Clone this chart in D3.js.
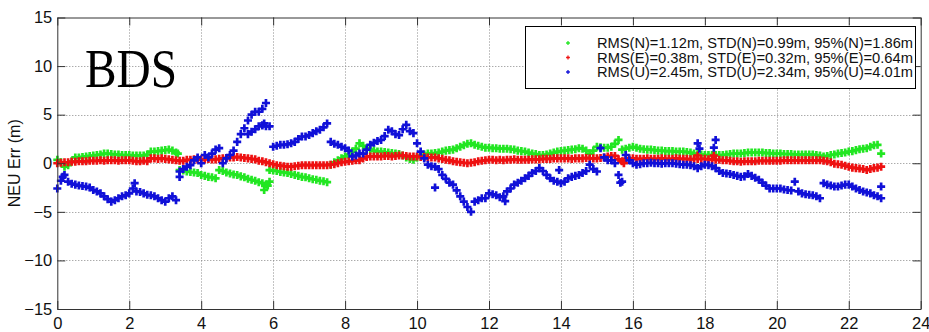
<!DOCTYPE html>
<html>
<head>
<meta charset="utf-8">
<script src="https://cdn.jsdelivr.net/npm/d3@7"></script>
<style>
  body { margin: 0; background: #fff; }
  svg { display: block; font-family: "Liberation Sans", Arial, sans-serif; }
</style>
</head>
<body>
<svg id="chart" width="929" height="332"></svg>
<script>
// samples every 0.1 h, starting at 0 h
const STEP = 0.1;

const errN = [
  0.35, 0.1, -0.35, -0.2, 0.2, 0.6, 0.6, 0.65, 0.7, 0.75,
  0.8, 0.85, 0.9, 1.0, 1.0, 0.95, 0.9, 0.9, 0.85, 0.85,
  0.85, 0.8, 0.8, 0.8, 0.8, 0.9, 1.2, 1.2, 1.25, 1.3,
  1.35, 1.4, 1.3, 1.1, -0.7, -0.75, -0.85, -0.9, -0.95, -1.0,
  -1.2, -1.3, -1.4, -1.45, -1.55, -0.7, -0.8, -0.95, -1.05, -1.15,
  -1.2, -1.35, -1.45, -1.6, -1.7, -1.8, -1.95, -2.05, -2.2, -0.7,
  -0.75, -0.8, -0.9, -0.95, -1.0, -1.1, -1.2, -1.3, -1.4, -1.45,
  -1.55, -1.65, -1.7, -1.8, -1.85, -1.95, -0.15, 0.1, 0.3, 0.5,
  0.7, 0.9, 1.2, 1.5, 2.05, 1.8, 1.55, 1.4, 1.3, 1.2,
  1.2, 1.15, 1.1, 1.05, 1.0, 0.95, 0.8, 0.6, 0.45, 0.35,
  0.6, 0.8, 0.9, 1.0, 1.0, 1.05, 1.1, 1.2, 1.3, 1.35,
  1.4, 1.55, 1.7, 1.85, 2.0, 2.05, 1.9, 1.8, 1.7, 1.6,
  1.6, 1.55, 1.55, 1.5, 1.5, 1.5, 1.45, 1.4, 1.3, 1.25,
  1.2, 1.1, 1.0, 0.95, 0.85, 0.85, 0.9, 1.0, 1.1, 1.2,
  1.25, 1.3, 1.35, 1.4, 1.45, 1.55, 1.5, 1.3, 1.0, 1.3,
  1.7, 1.65, 1.6, 1.6, 1.7, 2.0, 2.4, 1.4, 1.5, 1.6,
  1.7, 1.6, 1.5, 1.45, 1.4, 1.4, 1.35, 1.3, 1.3, 1.25,
  1.25, 1.25, 1.2, 1.2, 1.2, 1.15, 1.1, 1.0, 0.95, 0.9,
  0.85, 0.85, 0.85, 0.85, 0.85, 0.85, 0.9, 0.95, 1.0, 1.0,
  1.0, 1.05, 1.1, 1.1, 1.1, 1.1, 1.1, 1.05, 1.05, 1.0,
  1.0, 1.0, 0.95, 0.95, 0.95, 0.9, 0.9, 0.9, 0.9, 0.9,
  0.9, 0.85, 0.8, 0.7, 0.75, 0.85, 0.9, 1.0, 1.05, 1.1,
  1.2, 1.25, 1.35, 1.45, 1.5, 1.55, 1.7, 1.85, 1.9, 1.0
];

const errE = [
  0.0, 0.05, 0.1, 0.1, 0.15, 0.15, 0.2, 0.2, 0.2, 0.25,
  0.25, 0.25, 0.3, 0.25, 0.3, 0.3, 0.3, 0.25, 0.3, 0.3,
  0.3, 0.25, 0.2, 0.2, 0.25, 0.2, 0.5, 0.5, 0.45, 0.5,
  0.45, 0.4, 0.35, 0.3, 0.25, 0.25, 0.35, 0.35, 0.4, 0.4,
  0.4, 0.4, 0.45, 0.4, 0.4, 0.45, 0.5, 0.55, 0.6, 0.6,
  0.65, 0.6, 0.55, 0.5, 0.45, 0.4, 0.25, 0.2, 0.1, 0.0,
  -0.1, -0.2, -0.25, -0.3, -0.35, -0.35, -0.3, -0.25, -0.2, -0.2,
  -0.2, -0.2, -0.2, -0.2, -0.2, -0.2, -0.15, -0.1, 0.0, 0.1,
  0.15, 0.2, 0.25, 0.3, 0.3, 0.5, 0.65, 0.7, 0.7, 0.7,
  0.7, 0.75, 0.75, 0.7, 0.75, 0.8, 0.8, 0.75, 0.7, 0.7,
  0.7, 0.65, 0.65, 0.6, 0.6, 0.6, 0.5, 0.45, 0.35, 0.3,
  0.2, 0.15, 0.1, 0.05, 0.0, 0.05, 0.1, 0.2, 0.25, 0.3,
  0.35, 0.35, 0.3, 0.35, 0.3, 0.35, 0.35, 0.4, 0.35, 0.35,
  0.35, 0.35, 0.4, 0.4, 0.4, 0.45, 0.45, 0.45, 0.5, 0.5,
  0.5, 0.5, 0.5, 0.45, 0.5, 0.5, 0.5, 0.55, 0.5, 0.5,
  0.5, 0.55, 0.6, 0.7, 0.75, 0.75, 0.4, 0.2, 0.45, 0.5,
  0.5, 0.45, 0.45, 0.45, 0.5, 0.45, 0.45, 0.45, 0.5, 0.45,
  0.45, 0.45, 0.5, 0.45, 0.45, 0.45, 0.4, 0.45, 0.45, 0.45,
  0.45, 0.4, 0.4, 0.35, 0.35, 0.3, 0.3, 0.25, 0.2, 0.2,
  0.15, 0.2, 0.2, 0.2, 0.2, 0.25, 0.25, 0.25, 0.25, 0.25,
  0.25, 0.25, 0.3, 0.3, 0.3, 0.3, 0.3, 0.3, 0.3, 0.3,
  0.3, 0.3, 0.3, 0.25, 0.2, 0.1, -0.05, -0.1, -0.15, -0.25,
  -0.35, -0.45, -0.5, -0.55, -0.6, -0.7, -0.6, -0.5, -0.45, -0.35
];

const errU = [
  -2.6, -1.8, -1.2, -1.9, -2.1, -2.2, -2.3, -2.35, -2.4, -2.5,
  -2.75, -2.9, -3.1, -3.4, -3.7, -3.95, -3.8, -3.6, -3.4, -3.3,
  -3.1, -2.6, -2.9, -2.95, -3.1, -3.25, -3.3, -3.4, -3.6, -3.8,
  -3.95, -3.6, -3.4, -3.8, -0.85, -0.6, -0.35, -0.2, 0.3, 0.6,
  0.0, 0.85, 0.6, 1.0, 1.4, 1.55, 0.0, 0.5, 0.85, 1.3,
  2.2, 3.0, 3.6, 4.4, 5.0, 5.3, 5.3, 5.6, 6.2, 3.8,
  1.7, 1.8, 1.9, 1.9, 1.95, 2.05, 2.2, 2.5, 2.75, 2.75,
  2.9, 3.1, 3.3, 3.45, 3.7, 4.1, 2.2, 2.0, 1.9, 1.7,
  1.55, 1.3, 0.7, 0.8, 1.0, 1.0, 1.4, 1.9, 2.1, 2.3,
  2.4, 2.8, 3.45, 3.3, 3.0, 2.9, 3.5, 3.95, 3.3, 3.1,
  2.05, 1.2, 0.5, -0.15, -0.3, -0.35, -0.6, -1.2, -1.6, -2.0,
  -2.2, -2.8, -3.4, -3.95, -4.5, -5.0, -3.95, -3.8, -3.6, -3.6,
  -3.1, -3.2, -3.3, -3.5, -3.4, -2.9, -2.6, -2.2, -2.0, -1.8,
  -1.55, -1.3, -1.0, -0.8, -0.5, -0.8, -1.2, -1.55, -1.8, -1.9,
  -2.05, -1.9, -1.55, -1.4, -1.3, -1.2, -1.0, -0.8, -0.15, -0.6,
  -0.85, 1.55, 0.6, 0.3, 0.3, 0.0, -1.2, -1.9, 0.85, 0.3,
  0.0, -0.15, -0.1, 0.0, 0.0, 0.05, 0.0, 0.0, -0.05, 0.0,
  0.0, 0.0, -0.05, -0.1, -0.15, -0.15, -0.2, -0.3, -0.5, -0.3,
  -0.15, -0.2, -0.3, -0.5, -0.8, -1.0, -1.05, -1.1, -1.2, -1.3,
  -1.4, -1.35, -1.1, -1.3, -1.5, -1.7, -2.0, -2.3, -2.6, -2.6,
  -2.6, -2.6, -2.7, -2.75, -2.8, -1.9, -2.9, -3.1, -3.2, -3.25,
  -3.3, -3.4, -3.6, -2.05, -2.2, -2.3, -2.4, -2.4, -2.3, -2.2,
  -2.2, -2.4, -2.6, -2.75, -2.9, -3.0, -3.1, -3.3, -3.4, -2.4
];

// scattered epochs that sit off the main band: [hour, metres]
const extraN = [[3.35, 1.0], [5.75, -2.75], [5.85, -2.3], [5.9, -1.9]];
const extraE = [[17.8, 0.8], [18.25, 0.8], [15.75, 0.0]];
const extraU = [
  [0.15, -1.4], [2.15, -2.05], [3.4, -1.4], [5.3, 3.0], [5.4, 3.25], [5.5, 3.5],
  [5.6, 3.8], [5.7, 3.9], [5.75, 4.1], [5.8, 3.8], [10.5, -2.5], [12.45, -3.9],
  [13.95, -0.7], [15.65, -2.0], [17.8, 2.05], [17.85, 1.5], [18.25, 1.6], [18.3, 2.4],
  [22.9, -3.6]
];

const xTicks = [0, 2, 4, 6, 8, 10, 12, 14, 16, 18, 20, 22, 24];
const yTicks = [-15, -10, -5, 0, 5, 10, 15];

const legendLabels = [
  "RMS(N)=1.12m, STD(N)=0.99m, 95%(N)=1.86m",
  "RMS(E)=0.38m, STD(E)=0.32m, 95%(E)=0.64m",
  "RMS(U)=2.45m, STD(U)=2.34m, 95%(U)=4.01m"
];
const seriesColors = ["#22e622", "#ee1111", "#1010d8"];

const svg = d3.select("#chart");
const plotL = 57.3, plotR = 920.7, plotT = 17.5, plotB = 309;

const x = d3.scaleLinear().domain([0, 24]).range([plotL, plotR]);
const y = d3.scaleLinear().domain([-15, 15]).range([plotB, plotT]);

// dotted grid
const grid = svg.append("g").attr("stroke", "#888").attr("stroke-width", 1)
  .attr("stroke-dasharray", "1,2");
grid.selectAll(".gx").data(xTicks.slice(1, -1)).enter().append("line")
  .attr("x1", d => Math.round(x(d)) + 0.5).attr("x2", d => Math.round(x(d)) + 0.5)
  .attr("y1", plotT).attr("y2", plotB);
grid.selectAll(".gy").data(yTicks.slice(1, -1)).enter().append("line")
  .attr("y1", d => Math.round(y(d)) + 0.5).attr("y2", d => Math.round(y(d)) + 0.5)
  .attr("x1", plotL).attr("x2", plotR);

// series, drawn N, E, U so U sits on top
const series = [
  { vals: errN, extra: extraN },
  { vals: errE, extra: extraE },
  { vals: errU, extra: extraU }
];
const marker = d3.symbol().type(d3.symbolCross).size(36);
series.forEach((s, k) => {
  const pts = s.vals.map((v, i) => [i * STEP, v]).concat(s.extra);
  svg.append("g").selectAll("path").data(pts).enter().append("path")
    .attr("d", marker)
    .attr("transform", d => "translate(" + x(d[0]) + "," + y(d[1]) + ")")
    .attr("fill", seriesColors[k]);
});

// axes, ticks pointing inward
const axisCol = "#333";
const fontSize = 16.5;
const bx = svg.append("g").attr("transform", "translate(0," + plotB + ")")
  .call(d3.axisBottom(x).tickValues(xTicks).tickSizeInner(-8).tickSizeOuter(0).tickPadding(8));
const tx = svg.append("g").attr("transform", "translate(0," + plotT + ")")
  .call(d3.axisTop(x).tickValues(xTicks).tickSizeInner(-8).tickSizeOuter(0).tickFormat(""));
const ly = svg.append("g").attr("transform", "translate(" + plotL + ",0)")
  .call(d3.axisLeft(y).tickValues(yTicks).tickSizeInner(-8).tickSizeOuter(0).tickPadding(5));
const ry = svg.append("g").attr("transform", "translate(" + plotR + ",0)")
  .call(d3.axisRight(y).tickValues(yTicks).tickSizeInner(-8).tickSizeOuter(0).tickFormat(""));
[bx, tx, ly, ry].forEach(g => {
  g.selectAll("path, line").attr("stroke", axisCol);
  g.selectAll("text").attr("fill", "#111").style("font-size", fontSize + "px")
    .style("font-family", "'Liberation Sans', Arial, sans-serif");
});

// y label
svg.append("text")
  .attr("transform", "translate(20," + y(0) + ") rotate(-90)")
  .attr("text-anchor", "middle")
  .style("font-size", "16px").attr("fill", "#111")
  .text("NEU Err (m)");

// BDS tag
svg.append("text")
  .attr("x", 85).attr("y", 87)
  .attr("textLength", 92).attr("lengthAdjust", "spacingAndGlyphs")
  .style("font-family", "'Liberation Serif', 'Times New Roman', serif")
  .style("font-size", "54px").attr("fill", "#000")
  .text("BDS");

// legend
const lg = svg.append("g");
lg.append("rect").attr("x", 525.5).attr("y", 26.5).attr("width", 390).attr("height", 62)
  .attr("fill", "#fff").attr("stroke", "#000").attr("stroke-width", 1);
const rowY = [43, 57.5, 72];
legendLabels.forEach((t, i) => {
  lg.append("path").attr("d", d3.symbol().type(d3.symbolCross).size(8))
    .attr("transform", "translate(568," + rowY[i] + ")").attr("fill", seriesColors[i]);
  lg.append("text").attr("x", 597).attr("y", rowY[i] + 5)
    .attr("textLength", 316).attr("lengthAdjust", "spacingAndGlyphs")
    .style("font-size", "14.5px").attr("fill", "#111")
    .text(t);
});
</script>
</body>
</html>
